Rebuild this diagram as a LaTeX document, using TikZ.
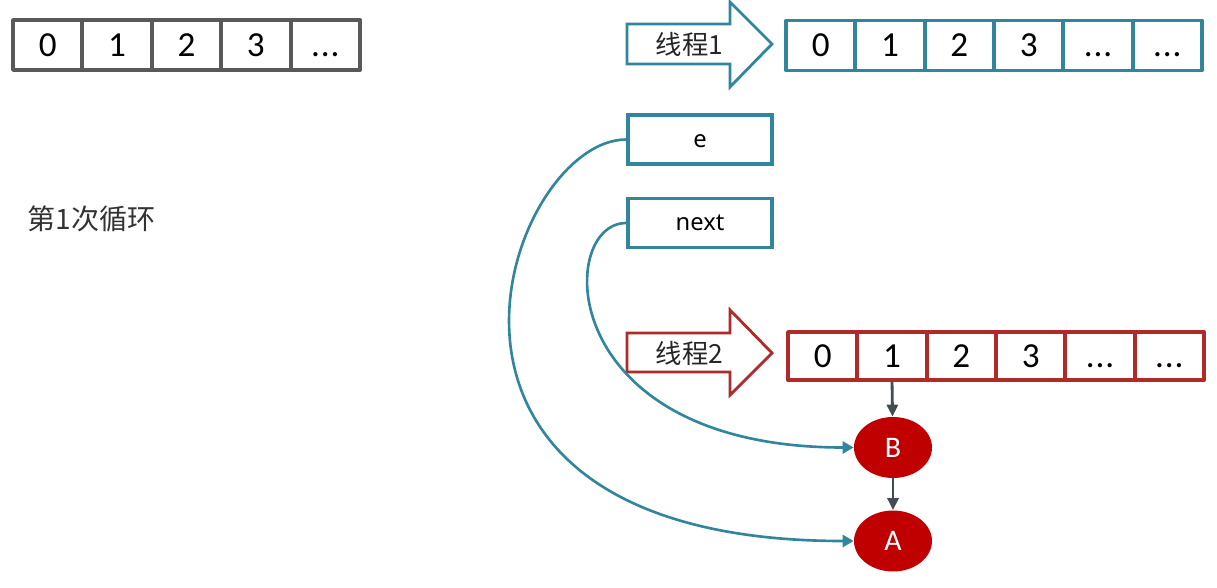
\documentclass[tikz,border=0pt]{standalone}
\usepackage{fontspec}
\setmainfont{Carlito}
\newfontfamily\cjkfont{Noto Sans CJK SC}
\newfontfamily\labelfont{Noto Sans}
\usetikzlibrary{arrows.meta,shapes.geometric}
\definecolor{arrgray}{HTML}{595959}
\definecolor{tealline}{HTML}{31859C}
\definecolor{redline}{HTML}{B02A2A}
\definecolor{nodered}{HTML}{C00000}
\definecolor{ptrgray}{HTML}{434C50}
\newcommand{\dotcell}{.\kern0.5pt.\kern0.5pt.}

\begin{document}
\begin{tikzpicture}[x=0.02cm,y=-0.02cm,
  cell/.style={draw,line width=2.2pt,line join=round,inner sep=0pt,minimum width=1.388cm,minimum height=1cm,text height=13pt,text depth=0pt,font=\fontsize{20}{24}\selectfont},
  varbox/.style={draw=tealline,line width=2pt,inner sep=0pt,minimum width=2.88cm,minimum height=0.98cm,text height=9pt,text depth=0pt,font=\labelfont\fontsize{13.5}{16}\selectfont},
  thread/.style={line width=1.6pt,line join=miter,fill=white},
  threadtext/.style={font=\cjkfont\fontsize{15}{18}\selectfont,text=black!85},
  entry/.style={ellipse,fill=nodered,text=white,inner sep=0pt,minimum width=1.56cm,minimum height=1.22cm,font=\fontsize{17}{20}\selectfont},
  ref/.style={tealline,line width=1.5pt,-{Triangle[length=2.2mm,width=2.4mm]}},
  link/.style={ptrgray,line width=1.6pt,-{Triangle[length=2.4mm,width=2.2mm]}}]

\useasboundingbox (0,0) rectangle (1217,588);

\foreach \v [count=\i from 0] in {0,1,2,3,\dotcell}
  \node[cell,draw=arrgray] (c\i) at (47.7+69.4*\i,45) {\v};

\node[font=\cjkfont\fontsize{16}{19}\selectfont,text=black!80] (loop) at (91.5,219) {第1次循环};

\draw[thread,draw=tealline] (627,24) -- (730,24) -- (730,2) -- (772,44) -- (730,87) -- (730,64) -- (627,64) -- cycle;
\node[threadtext] (t1) at (689.5,44) {线程1};
\foreach \v [count=\i from 0] in {0,1,2,3,\dotcell,\dotcell}
  \node[cell,draw=tealline] (p\i) at (820.7+69.33*\i,45.5) {\v};

\node[varbox] (e) at (700,139.5) {e};
\node[varbox] (nxt) at (700,223) {next};

\draw[thread,draw=redline] (627,333) -- (730,333) -- (730,310) -- (772,353) -- (730,395) -- (730,372) -- (627,372) -- cycle;
\node[threadtext] (t2) at (689.5,353) {线程2};
\foreach \v [count=\i from 0] in {0,1,2,3,\dotcell,\dotcell}
  \node[cell,draw=redline,minimum height=0.96cm] (q\i) at (822.7+69.33*\i,356) {\v};

\node[entry] (B) at (893,447.5) {B};
\node[entry] (A) at (893,541) {A};

\draw[link] (q1.south) -- (B);
\draw[link] (B) -- (A);
\draw[ref] (e.west) .. controls +(-120,0) and +(-490,0) .. (A.west);
\draw[ref] (nxt.west) .. controls +(-70,0) and +(-300,0) .. (B.west);
\end{tikzpicture}
\end{document}
